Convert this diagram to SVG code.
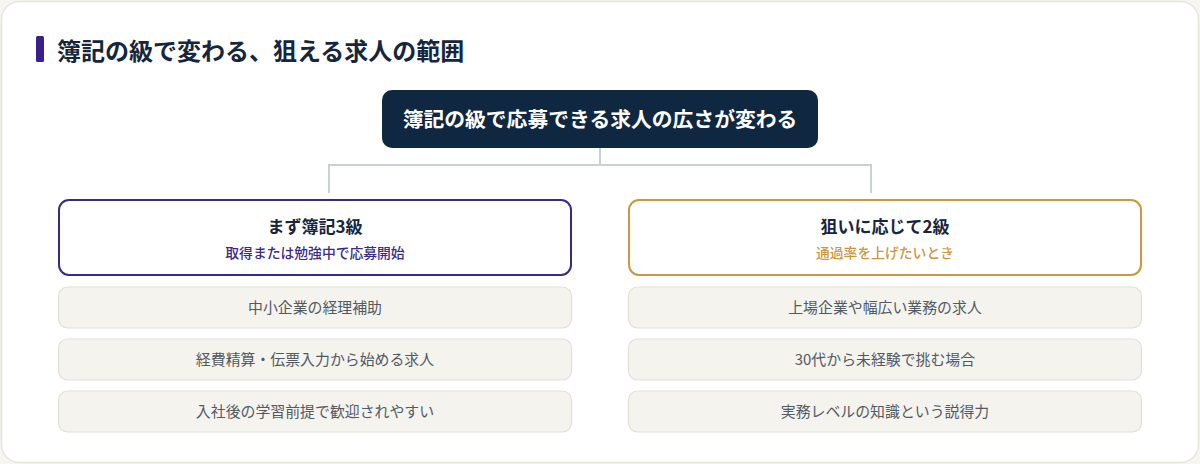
<svg xmlns="http://www.w3.org/2000/svg" width="1200" height="464" viewBox="0 0 1200 464">
<style>
.t{font-family:"Noto Sans CJK JP","Noto Sans",sans-serif}
.hd{font-size:17px;font-weight:700;fill:#15263d;text-anchor:middle}
.sub{font-size:13.8px;font-weight:500;text-anchor:middle}
.item rect{fill:#f5f3ee;stroke:#e2dfd6;stroke-width:1.2}
.item text{font-size:14.9px;fill:#515a63;text-anchor:middle}
.conn{fill:none;stroke:#c9d0d7;stroke-width:2}
</style>
<rect x="0" y="0" width="1200" height="464" fill="#f6f5f0"/>
<rect x="1.5" y="1.5" width="1197" height="461" rx="18" fill="#ffffff" stroke="#e6e4dc" stroke-width="1.5"/>
<g id="title">
<rect x="36" y="36" width="8" height="26" rx="1.5" fill="#3b1f8f"/>
<text class="t" x="57" y="60" font-size="24" font-weight="700" fill="#15263d">簿記の級で変わる、狙える求人の範囲</text>
</g>
<g id="connectors">
<path class="conn" d="M600 148 V165 M329 165 H871 M329 164 V193 M871 164 V193"/>
</g>
<g id="root">
<rect x="382" y="90" width="436" height="58" rx="10" fill="#0f2740"/>
<text class="t" x="600" y="127" font-size="20.8" font-weight="700" fill="#ffffff" text-anchor="middle">簿記の級で応募できる求人の広さが変わる</text>
</g>
<g id="left-header">
<rect x="59" y="200" width="512" height="75" rx="10" fill="#ffffff" stroke="#3a2a86" stroke-width="2"/>
<text class="t hd" x="315" y="233">まず簿記3級</text>
<text class="t sub" x="315" y="257.5" fill="#3b2a88">取得または勉強中で応募開始</text>
</g>
<g id="right-header">
<rect x="629" y="200" width="512" height="75" rx="10" fill="#ffffff" stroke="#c9983f" stroke-width="2"/>
<text class="t hd" x="885" y="233">狙いに応じて2級</text>
<text class="t sub" x="885" y="257.5" fill="#c9983f">通過率を上げたいとき</text>
</g>
<g id="left-item-1" class="item">
<rect x="58.5" y="287" width="513" height="41" rx="9"/>
<text class="t" x="315" y="313">中小企業の経理補助</text>
</g>
<g id="left-item-2" class="item">
<rect x="58.5" y="339" width="513" height="41" rx="9"/>
<text class="t" x="315" y="365">経費精算・伝票入力から始める求人</text>
</g>
<g id="left-item-3" class="item">
<rect x="58.5" y="391" width="513" height="41" rx="9"/>
<text class="t" x="315" y="417">入社後の学習前提で歓迎されやすい</text>
</g>
<g id="right-item-1" class="item">
<rect x="628.5" y="287" width="513" height="41" rx="9"/>
<text class="t" x="885" y="313">上場企業や幅広い業務の求人</text>
</g>
<g id="right-item-2" class="item">
<rect x="628.5" y="339" width="513" height="41" rx="9"/>
<text class="t" x="885" y="365">30代から未経験で挑む場合</text>
</g>
<g id="right-item-3" class="item">
<rect x="628.5" y="391" width="513" height="41" rx="9"/>
<text class="t" x="885" y="417">実務レベルの知識という説得力</text>
</g>
</svg>
